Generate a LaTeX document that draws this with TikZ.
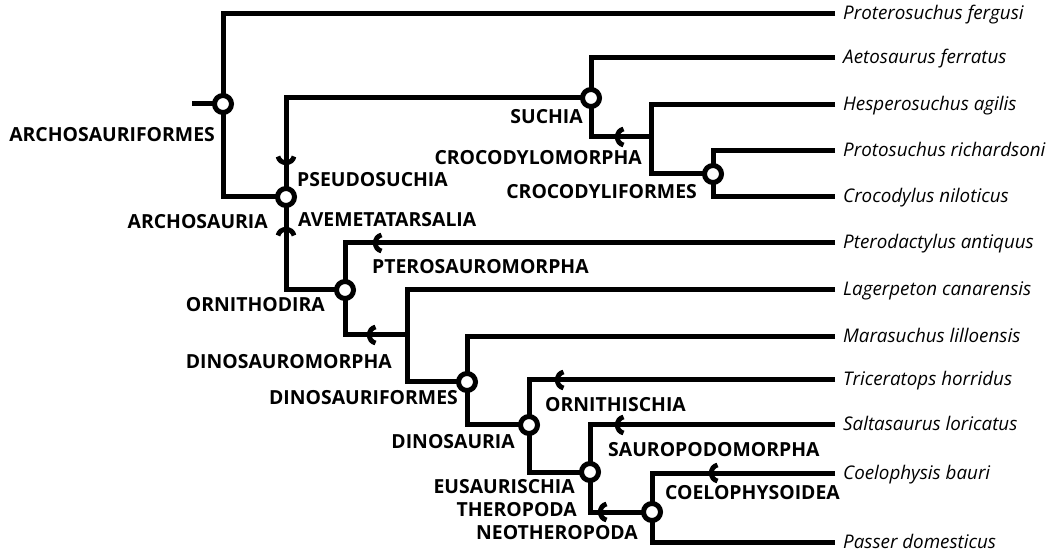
\documentclass[tikz,border=0pt]{standalone}
\usepackage{fontspec}
\setmainfont{Open Sans}
\begin{document}
\begin{tikzpicture}[x=1pt,y=-1pt,
  br/.style={line width=5pt},
  clade/.style={circle,draw,fill=white,line width=5pt,minimum size=17pt,inner sep=0pt},
  grp/.style={font=\bfseries\fontsize{19.4}{19.4}\selectfont,inner sep=0pt},
  tax/.style={font=\itshape\fontsize{18.8}{18.8}\selectfont,inner sep=0pt,anchor=base west},
  stem/.pic={\draw[line width=4.8pt] (6.5,-8) .. controls (-1.8,-6.2) and (-1.8,6.2) .. (6.5,8);}
]
\useasboundingbox (0,0) rectangle (1061,553);
% internal nodes
\coordinate (root) at (192,104);
\coordinate (af) at (223,104);
\coordinate (as) at (286,197);
\coordinate (su) at (591,98);
\coordinate (cm) at (651,137);
\coordinate (cf) at (713,174);
\coordinate (od) at (345,290);
\coordinate (dm) at (407,335);
\coordinate (df) at (467,382);
\coordinate (da) at (529,425);
\coordinate (es) at (590,472);
\coordinate (nt) at (652,512);
% tips
\coordinate (t1) at (835,14);
\coordinate (t2) at (835,58);
\coordinate (t3) at (835,105);
\coordinate (t4) at (835,151);
\coordinate (t5) at (835,197);
\coordinate (t6) at (835,243);
\coordinate (t7) at (835,290);
\coordinate (t8) at (835,337);
\coordinate (t9) at (835,380);
\coordinate (t10) at (835,425);
\coordinate (t11) at (835,473);
\coordinate (t12) at (835,542);
% branches
\draw[br] (root) -- (af);
\draw[br] (t1) -| (af) |- (as);
\draw[br] (su) -| (as) |- (od);
\draw[br] (t2) -| (su) |- (cm);
\draw[br] (t3) -| (cm) |- (cf);
\draw[br] (t4) -| (cf) |- (t5);
\draw[br] (t6) -| (od) |- (dm);
\draw[br] (t7) -| (dm) |- (df);
\draw[br] (t8) -| (df) |- (da);
\draw[br] (t9) -| (da) |- (es);
\draw[br] (t10) -| (es) |- (nt);
\draw[br] (t11) -| (nt) |- (t12);
% stem-based marks
\pic[rotate=90] at (286,163) {stem};
\pic[rotate=-90] at (286,229) {stem};
\pic at (617,137) {stem};
\pic at (375,243) {stem};
\pic at (369,335) {stem};
\pic at (557,380) {stem};
\pic at (617,425) {stem};
\pic at (600,512) {stem};
\pic at (711,473) {stem};
% node-based circles
\node[clade] (AF) at (af) {};
\node[clade] (AS) at (as) {};
\node[clade] (SU) at (su) {};
\node[clade] (CF) at (cf) {};
\node[clade] (OD) at (od) {};
\node[clade] (DF) at (df) {};
\node[clade] (DA) at (da) {};
\node[clade] (ES) at (es) {};
\node[clade] (NT) at (nt) {};
% clade labels
\node[grp,anchor=east] (lAF) at (215,135) {ARCHOSAURIFORMES};
\node[grp,anchor=east] (lAS) at (268,222) {ARCHOSAURIA};
\node[grp,anchor=west] (lPS) at (297,180) {PSEUDOSUCHIA};
\node[grp,anchor=west] (lAV) at (298,220) {AVEMETATARSALIA};
\node[grp,anchor=east] (lSU) at (583,117) {SUCHIA};
\node[grp,anchor=east] (lCM) at (642,158) {CROCODYLOMORPHA};
\node[grp,anchor=east] (lCF) at (697,192) {CROCODYLIFORMES};
\node[grp,anchor=west] (lPT) at (372,267) {PTEROSAUROMORPHA};
\node[grp,anchor=east] (lOD) at (325,305) {ORNITHODIRA};
\node[grp,anchor=east] (lDM) at (392,362) {DINOSAUROMORPHA};
\node[grp,anchor=east] (lDF) at (458,398) {DINOSAURIFORMES};
\node[grp,anchor=east] (lDA) at (515,442) {DINOSAURIA};
\node[grp,anchor=west] (lOR) at (545,405) {ORNITHISCHIA};
\node[grp,anchor=west] (lSA) at (608,450) {SAUROPODOMORPHA};
\node[grp,anchor=east] (lES) at (575,487) {EUSAURISCHIA};
\node[grp,anchor=east] (lTH) at (577,510) {THEROPODA};
\node[grp,anchor=east] (lNT) at (638,533) {NEOTHEROPODA};
\node[grp,anchor=west] (lCO) at (665,493) {COELOPHYSOIDEA};
% taxa
\node[tax] (n1) at (843,20) {Proterosuchus fergusi};
\node[tax] (n2) at (843,64) {Aetosaurus ferratus};
\node[tax] (n3) at (843,111) {Hesperosuchus agilis};
\node[tax] (n4) at (843,157) {Protosuchus richardsoni};
\node[tax] (n5) at (843,203) {Crocodylus niloticus};
\node[tax] (n6) at (843,249) {Pterodactylus antiquus};
\node[tax] (n7) at (843,296) {Lagerpeton canarensis};
\node[tax] (n8) at (843,343) {Marasuchus lilloensis};
\node[tax] (n9) at (843,386) {Triceratops horridus};
\node[tax] (n10) at (843,431) {Saltasaurus loricatus};
\node[tax] (n11) at (843,479) {Coelophysis bauri};
\node[tax] (n12) at (843,548) {Passer domesticus};
\end{tikzpicture}
\end{document}
